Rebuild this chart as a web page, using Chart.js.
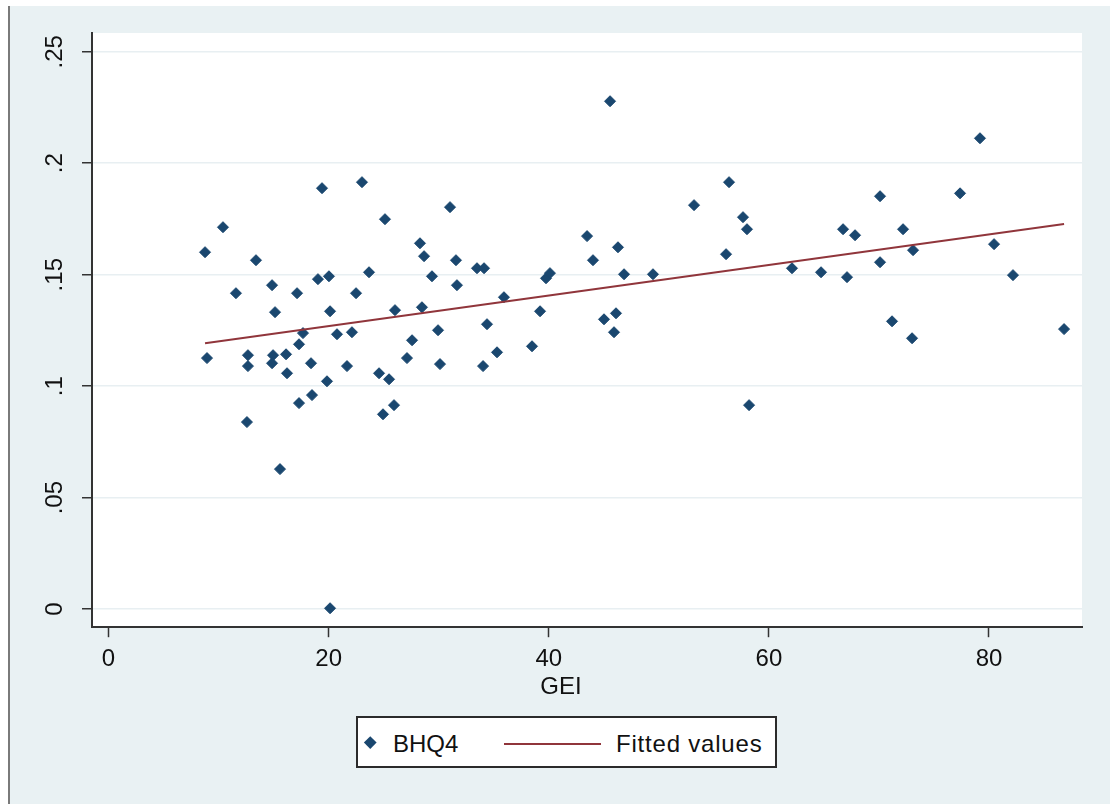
<!DOCTYPE html>
<html lang="en">
<head>
    <meta charset="UTF-8">
    <title>BHQ4 vs GEI</title>
    <style>
        body {
            margin: 0;
            background: #fff;
            font-family: 'Liberation Sans', Arial, sans-serif;
            color: #111;
        }
        #wrap {
            position: relative;
            width: 1110px;
            height: 804px;
            overflow: hidden;
        }
        #chart {
            position: absolute;
            left: 0;
            top: 0;
        }
        #legend {
            position: absolute;
            left: 356px;
            top: 716px;
            width: 417px;
            height: 48px;
            border: 2px solid #2b2b2b;
            background: #fff;
            font-size: 24px;
        }
        #legend span {
            position: absolute;
            top: 2px;
            line-height: 48px;
            white-space: nowrap;
        }
        #legend .diamond {
            position: absolute;
            width: 8.5px;
            height: 8.5px;
            transform: rotate(45deg);
        }
        #legend .line {
            position: absolute;
            height: 2px;
        }
    </style>
    <script src="https://cdn.jsdelivr.net/npm/chart.js"></script>
</head>
<body>
<div id="wrap">
    <canvas id="chart" width="1110" height="804"></canvas>
    <div id="legend"></div>
</div>
<script>
    // values
    const gei = [
        8.77, 8.95, 10.40, 11.58, 13.40, 12.67, 12.67, 12.58, 14.86, 15.13,
        14.95, 14.86, 15.58, 16.13, 16.22, 17.13, 17.67, 17.31, 17.31, 18.40,
        18.49, 19.03, 20.03, 19.40, 20.13, 19.85, 20.13, 20.76, 21.67, 22.12,
        22.49, 23.03, 23.67, 25.12, 24.58, 25.49, 24.94, 25.94, 26.03, 27.12,
        27.58, 28.30, 28.67, 29.39, 28.48, 29.94, 30.12, 31.03, 31.57, 31.66,
        33.48, 34.12, 34.39, 34.03, 35.30, 35.93, 38.48, 39.21, 39.75, 40.11,
        43.48, 44.02, 45.57, 45.02, 46.11, 45.93, 46.29, 46.84, 49.47, 53.20,
        56.38, 56.11, 57.65, 58.01, 58.20, 62.10, 64.74, 66.74, 67.83, 67.10,
        70.10, 70.10, 72.19, 73.10, 71.19, 73.01, 77.37, 79.18, 80.46, 82.18,
        86.82
    ];
    const bhq4 = [
        0.1601, 0.1126, 0.1713, 0.1417, 0.1565, 0.1139, 0.1090, 0.0839, 0.1453, 0.1332,
        0.1139, 0.1103, 0.0628, 0.1143, 0.1058, 0.1417, 0.1238, 0.1188, 0.0924, 0.1103,
        0.0960, 0.1480, 0.1493, 0.1888, 0.1336, 0.1022, 0.0004, 0.1233, 0.1090, 0.1242,
        0.1417, 0.1915, 0.1511, 0.1749, 0.1058, 0.1031, 0.0874, 0.0915, 0.1341, 0.1126,
        0.1206, 0.1641, 0.1583, 0.1493, 0.1354, 0.1251, 0.1099, 0.1803, 0.1565, 0.1453,
        0.1529, 0.1529, 0.1278, 0.1090, 0.1152, 0.1399, 0.1179, 0.1336, 0.1484, 0.1507,
        0.1673, 0.1565, 0.2278, 0.1300, 0.1327, 0.1242, 0.1623, 0.1502, 0.1502, 0.1812,
        0.1915, 0.1592, 0.1758, 0.1704, 0.0915, 0.1529, 0.1511, 0.1704, 0.1677, 0.1489,
        0.1852, 0.1556, 0.1704, 0.1610, 0.1291, 0.1215, 0.1865, 0.2112, 0.1637, 0.1498,
        0.1256
    ];
    const fitGei = [8.77, 86.82];
    const fitBhq4 = [0.1193, 0.1727];

    const xTicks = [0, 20, 40, 60, 80];
    const yTicks = [0, 0.05, 0.1, 0.15, 0.2, 0.25];
    const yTickLabels = ['0', '.05', '.1', '.15', '.2', '.25'];

    const navy = '#1a476f';
    const maroon = '#90353b';
    const axisColor = '#333333';

    Chart.defaults.font.family = "'Liberation Sans', Arial, sans-serif";
    Chart.defaults.color = '#111';

    // grey outer region + white plot region, Stata style
    const stataBackground = {
        id: 'stataBackground',
        beforeDraw(chart) {
            const { ctx, chartArea: a, width, height } = chart;
            ctx.save();
            ctx.fillStyle = '#ffffff';
            ctx.fillRect(0, 0, width, height);
            ctx.fillStyle = '#e9f1f3';
            ctx.fillRect(10, 6, width - 10, height - 6);
            ctx.fillStyle = '#7a7a7a';
            ctx.fillRect(8, 6, 2, height - 6);
            ctx.fillStyle = '#ffffff';
            ctx.fillRect(a.left, a.top, a.right - a.left, a.bottom - a.top);
            ctx.restore();
        }
    };

    const chart = new Chart(document.getElementById('chart'), {
        data: {
            datasets: [
                {
                    type: 'scatter',
                    label: 'BHQ4',
                    data: gei.map((x, i) => ({ x: x, y: bhq4[i] })),
                    pointStyle: 'rectRot',
                    pointRadius: 5.5,
                    backgroundColor: navy,
                    borderColor: navy,
                    borderWidth: 1,
                    order: 1
                },
                {
                    type: 'line',
                    label: 'Fitted values',
                    data: fitGei.map((x, i) => ({ x: x, y: fitBhq4[i] })),
                    borderColor: maroon,
                    borderWidth: 2,
                    pointRadius: 0,
                    fill: false,
                    order: 0
                }
            ]
        },
        options: {
            responsive: false,
            animation: false,
            events: [],
            layout: { padding: { left: 40, right: 28, top: 33, bottom: 102 } },
            plugins: {
                legend: { display: false },
                tooltip: { enabled: false },
                title: {
                    display: true,
                    text: 'GEI',
                    position: 'bottom',
                    color: '#111',
                    font: { size: 24, weight: 'normal' },
                    padding: 0
                }
            },
            scales: {
                x: {
                    type: 'linear',
                    min: -1.5,
                    max: 88.45,
                    afterBuildTicks: s => { s.ticks = xTicks.map(v => ({ value: v })); },
                    afterFit: s => { s.height = 46; },
                    grid: { drawOnChartArea: false, tickLength: 10, tickColor: axisColor, tickWidth: 1.5 },
                    border: { color: axisColor, width: 2 },
                    ticks: { font: { size: 24 }, padding: 8, maxRotation: 0, color: '#111' }
                },
                y: {
                    type: 'linear',
                    min: -0.0081,
                    max: 0.2584,
                    afterBuildTicks: s => { s.ticks = yTicks.map(v => ({ value: v })); },
                    afterFit: s => { s.width = 52; },
                    grid: { color: '#e8eff2', lineWidth: 1.5, tickLength: 10, tickColor: axisColor, tickWidth: 1.5 },
                    border: { color: axisColor, width: 2 },
                    ticks: {
                        font: { size: 24 },
                        color: '#111',
                        minRotation: 90,
                        maxRotation: 90,
                        crossAlign: 'center',
                        padding: 10,
                        callback: (v, i) => yTickLabels[i]
                    }
                }
            }
        },
        plugins: [stataBackground]
    });

    // boxed legend like Stata's, built from the datasets
    const legendEl = document.getElementById('legend');
    const [scatterSet, lineSet] = chart.data.datasets;
    legendEl.innerHTML =
        `<div class="diamond" style="left:8px;top:20px;background:${scatterSet.backgroundColor}"></div>` +
        `<span style="left:35px">${scatterSet.label}</span>` +
        `<div class="line" style="left:146px;top:25px;width:97px;background:${lineSet.borderColor}"></div>` +
        `<span style="left:258px;letter-spacing:0.8px">${lineSet.label}</span>`;
</script>
</body>
</html>
